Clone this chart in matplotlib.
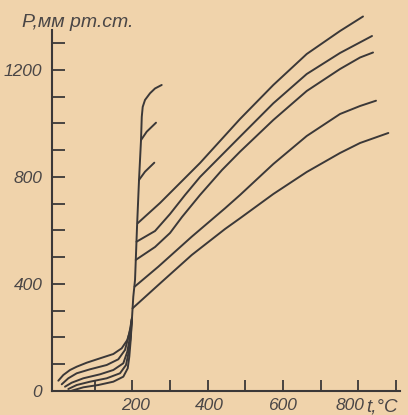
import matplotlib
matplotlib.use("Agg")
import matplotlib.pyplot as plt
from matplotlib.ticker import MultipleLocator, FixedLocator
from matplotlib.transforms import ScaledTranslation

# --- данные: t (°C), P (мм рт.ст.) ---

# нижние кривые (до 200 °C)
low1_t = [3.5, 16.7, 34.5, 52.3, 78.8, 114.2, 149.5, 171.7, 186.6, 195.6, 199]
low1_p = [38.5, 59.8, 78.5, 90.8, 105.8, 122.2, 138.3, 159.6, 190.7, 234.4, 272]
low2_t = [12.5, 30, 52.3, 87.6, 131.9, 162.7, 180.5, 191.9, 199]
low2_p = [25, 47.5, 66.2, 81.1, 97.2, 118.5, 153.3, 215.7, 272]
low3_t = [21.2, 39, 69.8, 114.2, 149.5, 176, 186.6, 193.8, 199]
low3_p = [16.1, 31, 47.5, 62.4, 78.5, 103.6, 146.9, 203, 272]
low4_t = [30, 52.3, 87.6, 131.9, 167.2, 183.2, 190.3, 195.6, 199]
low4_p = [7.5, 22.4, 34.8, 47.5, 66.2, 97.2, 146.9, 203, 272]
low5_t = [39, 69.8, 109.6, 149.5, 176, 187.7, 191.9, 195.6, 199]
low5_p = [1.1, 13.8, 22.4, 34.8, 53.5, 84.9, 128.2, 190.7, 272]

# вертикальный участок и его загиб наверху
stem_t = [199, 202.5, 207.1, 212.4, 217.7, 223, 225, 227.5, 233.6, 246.9, 260.2, 277.9]
stem_p = [272, 352.5, 415, 613, 789, 938, 1025, 1062, 1088, 1113, 1131, 1144]

# короткие отростки
branch2_t = [223, 238.1, 262.8]
branch2_p = [938, 969.3, 1003]
branch3_t = [217.7, 233.6, 258.3]
branch3_p = [789, 819.8, 853.5]

# верхние кривые (после 200 °C)
hiA_t = [214, 273.4, 379.6, 485.8, 574.2, 662.9, 751.3, 812.3]
hiA_p = [627, 702.8, 852.3, 1016.8, 1143.9, 1259.8, 1345.8, 1400]
hiB_t = [211, 260.2, 300, 339.8, 379.6, 485.8, 574.2, 662.9, 751.3, 836.2]
hiB_p = [558, 598.1, 661.7, 732.7, 800, 950.7, 1075.5, 1185, 1263.6, 1327.1]
hiC_t = [209, 260.2, 300, 331.8, 379.6, 438, 485.8, 574.2, 662.9, 751.3, 804.4, 838.9]
hiC_p = [490, 538.3, 590.7, 650.5, 732.7, 826.2, 894.6, 1013.1, 1121.5, 1203.7, 1246.7, 1265.4]
hiD_t = [206, 268.9, 357.6, 446, 485.8, 574.2, 662.9, 751.3, 804.4, 846.8]
hiD_p = [390, 464.7, 576.8, 683, 732.7, 848.6, 953.3, 1035.5, 1065.4, 1085.2]
hiE_t = [200.5, 268.9, 357.6, 446, 485.8, 574.2, 662.9, 751.3, 804.4, 879.5]
hiE_p = [309, 396.3, 508.4, 605.6, 645.6, 736.4, 818.7, 889.7, 927.1, 964.5]

y_labels = [0, 400, 800, 1200]
x_labels = [200, 400, 600, 800]

# --- оформление ---
PAPER = "#f0d3ab"
INK = "#3b3838"
FONT = dict(family="Liberation Sans", style="italic", size=12, color="#4a4646")

fig = plt.figure(figsize=(4.08, 4.15), dpi=100, facecolor=PAPER)
ax = fig.add_axes([52 / 408, 24 / 415, 348 / 408, 361 / 415], facecolor=PAPER)

curves = [
    (low1_t, low1_p), (low2_t, low2_p), (low3_t, low3_p), (low4_t, low4_p), (low5_t, low5_p),
    (stem_t, stem_p), (branch2_t, branch2_p), (branch3_t, branch3_p),
    (hiA_t, hiA_p), (hiB_t, hiB_p), (hiC_t, hiC_p), (hiD_t, hiD_p), (hiE_t, hiE_p),
]
for t, p in curves:
    ax.plot(t, p, color=INK, lw=1.4, solid_joinstyle="round", solid_capstyle="round", clip_on=False)

ax.set_xlim(-13.3, 910.5)
ax.set_ylim(0, 1349.5)

for side in ("top", "right"):
    ax.spines[side].set_visible(False)
for side in ("left", "bottom"):
    ax.spines[side].set_color(INK)
    ax.spines[side].set_linewidth(1.5)

ax.yaxis.set_major_locator(FixedLocator(y_labels))
ax.yaxis.set_minor_locator(MultipleLocator(100))
ax.xaxis.set_major_locator(FixedLocator(x_labels))
ax.xaxis.set_minor_locator(FixedLocator([100, 300, 500, 700, 900]))

ax.tick_params(which="both", direction="in", color=INK, width=1.3)
ax.tick_params(axis="y", which="both", length=9, pad=7)
ax.tick_params(axis="x", which="both", length=8, pad=5)

ax.set_yticklabels([str(v) for v in y_labels], fontdict=dict(FONT, size=12.5))
ax.set_xticklabels([str(v) for v in x_labels], fontdict=dict(FONT, size=12.5))

# подписи на скане стоят чуть неровно относительно рисок
x_shift = [3, 2, -1, -8]
for lab, dx in zip(ax.get_xticklabels(), x_shift):
    lab.set_transform(lab.get_transform() + ScaledTranslation(dx / 100, 0, fig.dpi_scale_trans))

fig.text(22 / 408, 1 - 27 / 415, "P,мм рт.ст.", va="baseline", ha="left",
         **dict(FONT, size=14))
fig.text(366 / 408, 1 - 411 / 415, "t,°C", va="baseline", ha="left", **dict(FONT, size=13.5))

fig.savefig("out.png", dpi=100, facecolor=PAPER)
